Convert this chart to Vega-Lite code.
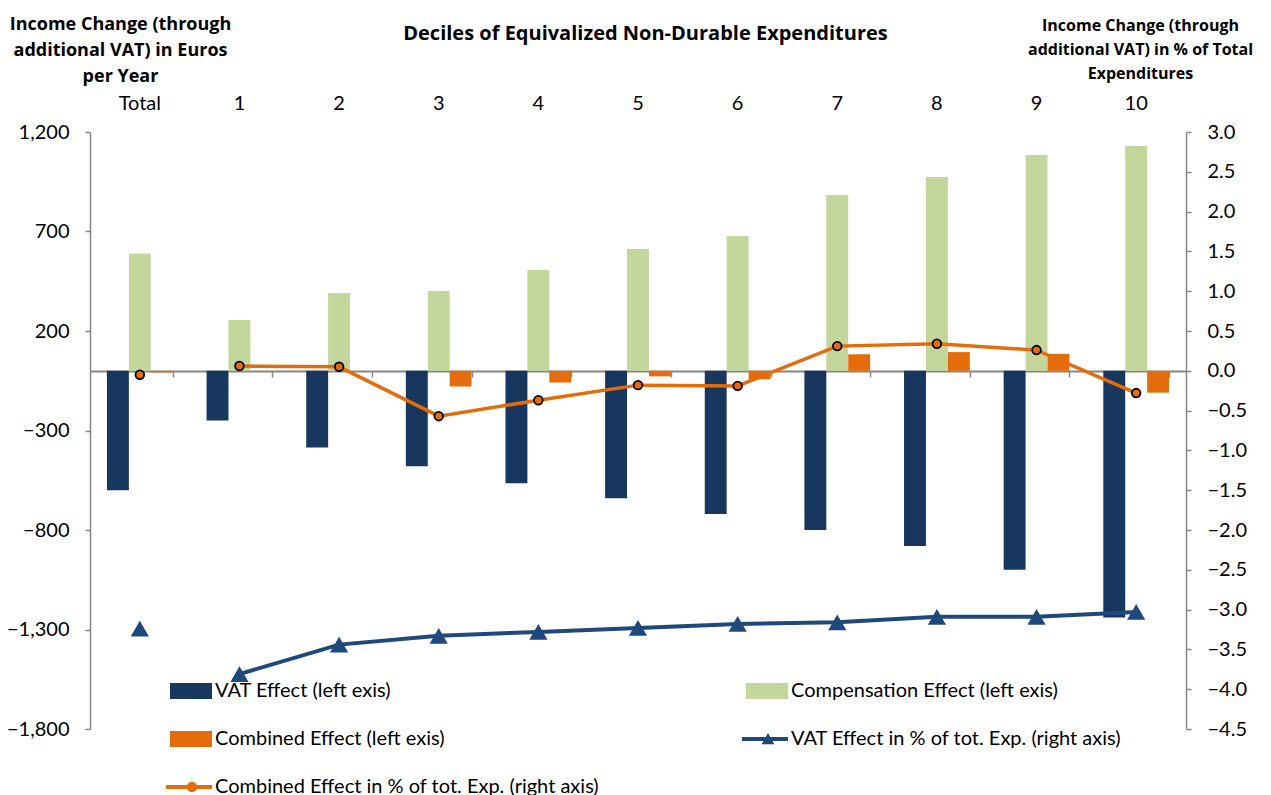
{
  "$schema": "https://vega.github.io/schema/vega-lite/v6.json",
  "width": 1096,
  "height": 597,
  "autosize": {"type": "none"},
  "padding": {"left": 90, "top": 132, "right": 85, "bottom": 66},
  "config": {
    "font": "Lato",
    "view": {"stroke": null},
    "axis": {"labelFont": "Lato", "titleFont": "Open Sans", "labelColor": "#000", "titleColor": "#000", "grid": false, "labelOverlap": false}
  },
  "data": {
    "values": [
      {"kind": "bar", "cat": "Total", "idx": 0, "series": "VAT Effect (left exis)", "value": -600},
      {"kind": "bar", "cat": "1", "idx": 1, "series": "VAT Effect (left exis)", "value": -250},
      {"kind": "bar", "cat": "2", "idx": 2, "series": "VAT Effect (left exis)", "value": -385},
      {"kind": "bar", "cat": "3", "idx": 3, "series": "VAT Effect (left exis)", "value": -480},
      {"kind": "bar", "cat": "4", "idx": 4, "series": "VAT Effect (left exis)", "value": -565},
      {"kind": "bar", "cat": "5", "idx": 5, "series": "VAT Effect (left exis)", "value": -640},
      {"kind": "bar", "cat": "6", "idx": 6, "series": "VAT Effect (left exis)", "value": -720},
      {"kind": "bar", "cat": "7", "idx": 7, "series": "VAT Effect (left exis)", "value": -800},
      {"kind": "bar", "cat": "8", "idx": 8, "series": "VAT Effect (left exis)", "value": -880},
      {"kind": "bar", "cat": "9", "idx": 9, "series": "VAT Effect (left exis)", "value": -1000},
      {"kind": "bar", "cat": "10", "idx": 10, "series": "VAT Effect (left exis)", "value": -1240},
      {"kind": "bar", "cat": "Total", "idx": 0, "series": "Compensation Effect (left exis)", "value": 590},
      {"kind": "bar", "cat": "1", "idx": 1, "series": "Compensation Effect (left exis)", "value": 255},
      {"kind": "bar", "cat": "2", "idx": 2, "series": "Compensation Effect (left exis)", "value": 391},
      {"kind": "bar", "cat": "3", "idx": 3, "series": "Compensation Effect (left exis)", "value": 401},
      {"kind": "bar", "cat": "4", "idx": 4, "series": "Compensation Effect (left exis)", "value": 506},
      {"kind": "bar", "cat": "5", "idx": 5, "series": "Compensation Effect (left exis)", "value": 612},
      {"kind": "bar", "cat": "6", "idx": 6, "series": "Compensation Effect (left exis)", "value": 677},
      {"kind": "bar", "cat": "7", "idx": 7, "series": "Compensation Effect (left exis)", "value": 883},
      {"kind": "bar", "cat": "8", "idx": 8, "series": "Compensation Effect (left exis)", "value": 974},
      {"kind": "bar", "cat": "9", "idx": 9, "series": "Compensation Effect (left exis)", "value": 1085},
      {"kind": "bar", "cat": "10", "idx": 10, "series": "Compensation Effect (left exis)", "value": 1130},
      {"kind": "bar", "cat": "Total", "idx": 0, "series": "Combined Effect (left exis)", "value": -8},
      {"kind": "bar", "cat": "1", "idx": 1, "series": "Combined Effect (left exis)", "value": 0},
      {"kind": "bar", "cat": "2", "idx": 2, "series": "Combined Effect (left exis)", "value": 0},
      {"kind": "bar", "cat": "3", "idx": 3, "series": "Combined Effect (left exis)", "value": -79},
      {"kind": "bar", "cat": "4", "idx": 4, "series": "Combined Effect (left exis)", "value": -59},
      {"kind": "bar", "cat": "5", "idx": 5, "series": "Combined Effect (left exis)", "value": -28},
      {"kind": "bar", "cat": "6", "idx": 6, "series": "Combined Effect (left exis)", "value": -43},
      {"kind": "bar", "cat": "7", "idx": 7, "series": "Combined Effect (left exis)", "value": 83},
      {"kind": "bar", "cat": "8", "idx": 8, "series": "Combined Effect (left exis)", "value": 94},
      {"kind": "bar", "cat": "9", "idx": 9, "series": "Combined Effect (left exis)", "value": 85},
      {"kind": "bar", "cat": "10", "idx": 10, "series": "Combined Effect (left exis)", "value": -110},
      {"kind": "line", "cat": "Total", "idx": 0, "series": "VAT Effect in % of tot. Exp. (right axis)", "value": -3.24},
      {"kind": "line", "cat": "1", "idx": 1, "series": "VAT Effect in % of tot. Exp. (right axis)", "value": -3.81},
      {"kind": "line", "cat": "2", "idx": 2, "series": "VAT Effect in % of tot. Exp. (right axis)", "value": -3.44},
      {"kind": "line", "cat": "3", "idx": 3, "series": "VAT Effect in % of tot. Exp. (right axis)", "value": -3.33},
      {"kind": "line", "cat": "4", "idx": 4, "series": "VAT Effect in % of tot. Exp. (right axis)", "value": -3.28},
      {"kind": "line", "cat": "5", "idx": 5, "series": "VAT Effect in % of tot. Exp. (right axis)", "value": -3.23},
      {"kind": "line", "cat": "6", "idx": 6, "series": "VAT Effect in % of tot. Exp. (right axis)", "value": -3.18},
      {"kind": "line", "cat": "7", "idx": 7, "series": "VAT Effect in % of tot. Exp. (right axis)", "value": -3.16},
      {"kind": "line", "cat": "8", "idx": 8, "series": "VAT Effect in % of tot. Exp. (right axis)", "value": -3.09},
      {"kind": "line", "cat": "9", "idx": 9, "series": "VAT Effect in % of tot. Exp. (right axis)", "value": -3.09},
      {"kind": "line", "cat": "10", "idx": 10, "series": "VAT Effect in % of tot. Exp. (right axis)", "value": -3.03},
      {"kind": "line", "cat": "Total", "idx": 0, "series": "Combined Effect in % of tot. Exp. (right axis)", "value": -0.05},
      {"kind": "line", "cat": "1", "idx": 1, "series": "Combined Effect in % of tot. Exp. (right axis)", "value": 0.06},
      {"kind": "line", "cat": "2", "idx": 2, "series": "Combined Effect in % of tot. Exp. (right axis)", "value": 0.05},
      {"kind": "line", "cat": "3", "idx": 3, "series": "Combined Effect in % of tot. Exp. (right axis)", "value": -0.57},
      {"kind": "line", "cat": "4", "idx": 4, "series": "Combined Effect in % of tot. Exp. (right axis)", "value": -0.37},
      {"kind": "line", "cat": "5", "idx": 5, "series": "Combined Effect in % of tot. Exp. (right axis)", "value": -0.18},
      {"kind": "line", "cat": "6", "idx": 6, "series": "Combined Effect in % of tot. Exp. (right axis)", "value": -0.19},
      {"kind": "line", "cat": "7", "idx": 7, "series": "Combined Effect in % of tot. Exp. (right axis)", "value": 0.31},
      {"kind": "line", "cat": "8", "idx": 8, "series": "Combined Effect in % of tot. Exp. (right axis)", "value": 0.34},
      {"kind": "line", "cat": "9", "idx": 9, "series": "Combined Effect in % of tot. Exp. (right axis)", "value": 0.26},
      {"kind": "line", "cat": "10", "idx": 10, "series": "Combined Effect in % of tot. Exp. (right axis)", "value": -0.28}
    ]
  },
  "layer": [
    {
      "transform": [{"filter": "datum.kind === 'bar'"}],
      "mark": {"type": "bar"},
      "encoding": {
        "x": {
          "field": "cat", "type": "nominal",
          "sort": ["Total", "1", "2", "3", "4", "5", "6", "7", "8", "9", "10"],
          "scale": {"paddingInner": 0.34, "paddingOuter": 0.17},
          "axis": {
            "orient": "top", "domain": false, "ticks": false, "labelAngle": 0,
            "labelFontSize": 20, "labelPadding": 19,
            "title": "Deciles of Equivalized Non-Durable Expenditures",
            "titleFontSize": 20, "titleFontWeight": "bold",
            "titleX": 555, "titleY": -99, "titleBaseline": "middle"
          }
        },
        "xOffset": {
          "field": "series", "type": "nominal",
          "sort": ["VAT Effect (left exis)", "Compensation Effect (left exis)", "Combined Effect (left exis)"]
        },
        "y": {
          "field": "value", "type": "quantitative",
          "scale": {"domain": [-1800, 1200], "nice": false, "zero": false},
          "axis": {
            "values": [-1800, -1300, -800, -300, 200, 700, 1200], "tickCount": 20,
            "format": ",.0f", "labelFontSize": 20, "labelPadding": 16, "tickSize": 5, "labelOverlap": false,
            "domainColor": "#868686", "tickColor": "#868686", "domainWidth": 1.5, "tickWidth": 1.5,
            "title": ["Income Change (through", "additional VAT) in Euros", "per Year"],
            "titleAngle": 0, "titleX": 30, "titleY": -117, "titleAlign": "center", "titleBaseline": "top",
            "titleFontSize": 18, "titleFontWeight": "bold", "titleLineHeight": 26
          }
        },
        "color": {
          "field": "series", "type": "nominal",
          "scale": {
            "domain": ["VAT Effect (left exis)", "Compensation Effect (left exis)", "Combined Effect (left exis)", "VAT Effect in % of tot. Exp. (right axis)", "Combined Effect in % of tot. Exp. (right axis)"],
            "range": ["#17375E", "#C3D69B", "#E46C0A", "#1F497D", "#E46C0A"]
          },
          "legend": {
            "orient": "none", "legendX": 82, "legendY": 539, "columns": 2, "direction": "horizontal", "title": null,
            "padding": 0, "symbolSize": 1600, "labelFontSize": 20, "labelFont": "Lato", "labelColor": "#000",
            "columnPadding": 142, "rowPadding": 18, "labelOffset": 3, "labelLimit": 600,
            "symbolOpacity": 1, "symbolStrokeWidth": 0
          }
        }
      }
    },
    {
      "layer": [
        {
          "transform": [{"filter": "datum.kind === 'line' && datum.series === 'VAT Effect in % of tot. Exp. (right axis)' && datum.cat !== 'Total'"}],
          "mark": {"type": "line", "strokeWidth": 4},
          "encoding": {
            "x": {
              "field": "cat", "type": "nominal",
              "sort": ["Total", "1", "2", "3", "4", "5", "6", "7", "8", "9", "10"],
              "axis": {
                "orient": "bottom", "offset": -358, "labels": false, "ticks": true, "tickBand": "extent",
                "tickSize": 6, "domainColor": "#868686", "tickColor": "#868686", "domainWidth": 2, "tickWidth": 1.5,
                "title": null
              }
            },
            "y": {
              "field": "value", "type": "quantitative",
              "scale": {"domain": [-4.5, 3], "nice": false, "zero": false},
              "axis": {
                "orient": "right",
                "values": [-4.5, -4, -3.5, -3, -2.5, -2, -1.5, -1, -0.5, 0, 0.5, 1, 1.5, 2, 2.5, 3], "tickCount": 30,
                "format": ".1f", "labelFontSize": 20, "labelPadding": 16, "tickSize": 5, "labelOverlap": false,
                "domainColor": "#868686", "tickColor": "#868686", "domainWidth": 1.5, "tickWidth": 1.5,
                "title": ["Income Change (through", "additional VAT) in % of Total", "Expenditures"],
                "titleAngle": 0, "titleX": -46, "titleY": -115, "titleAlign": "center", "titleBaseline": "top",
                "titleFontSize": 16, "titleFontWeight": "bold", "titleLineHeight": 24
              }
            },
            "color": {"field": "series", "type": "nominal", "legend": null},
            "order": {"field": "idx", "type": "quantitative"}
          }
        },
        {
          "transform": [{"filter": "datum.kind === 'line' && datum.series === 'VAT Effect in % of tot. Exp. (right axis)'"}],
          "mark": {"type": "point", "shape": "triangle-up", "filled": true, "size": 330, "opacity": 1},
          "encoding": {
            "x": {"field": "cat", "type": "nominal", "sort": ["Total", "1", "2", "3", "4", "5", "6", "7", "8", "9", "10"]},
            "y": {"field": "value", "type": "quantitative"},
            "color": {"field": "series", "type": "nominal", "legend": null}
          }
        },
        {
          "transform": [{"filter": "datum.kind === 'line' && datum.series === 'Combined Effect in % of tot. Exp. (right axis)' && datum.cat !== 'Total'"}],
          "mark": {"type": "line", "strokeWidth": 3.5},
          "encoding": {
            "x": {"field": "cat", "type": "nominal", "sort": ["Total", "1", "2", "3", "4", "5", "6", "7", "8", "9", "10"]},
            "y": {"field": "value", "type": "quantitative"},
            "color": {"field": "series", "type": "nominal", "legend": null},
            "order": {"field": "idx", "type": "quantitative"}
          }
        },
        {
          "transform": [{"filter": "datum.kind === 'line' && datum.series === 'Combined Effect in % of tot. Exp. (right axis)'"}],
          "mark": {"type": "point", "shape": "circle", "filled": true, "size": 75, "stroke": "#000000", "strokeWidth": 1.8, "opacity": 1},
          "encoding": {
            "x": {"field": "cat", "type": "nominal", "sort": ["Total", "1", "2", "3", "4", "5", "6", "7", "8", "9", "10"]},
            "y": {"field": "value", "type": "quantitative"},
            "color": {"field": "series", "type": "nominal", "legend": null}
          }
        },
        {
          "transform": [{"filter": "datum.kind === 'line'"}],
          "mark": {"type": "point", "filled": true, "size": 1, "opacity": 0},
          "encoding": {
            "x": {"field": "cat", "type": "nominal", "sort": ["Total", "1", "2", "3", "4", "5", "6", "7", "8", "9", "10"]},
            "y": {"field": "value", "type": "quantitative"},
            "color": {"field": "series", "type": "nominal", "legend": null},
            "shape": {
              "field": "series", "type": "nominal",
              "scale": {
                "domain": ["VAT Effect (left exis)", "Compensation Effect (left exis)", "Combined Effect (left exis)", "VAT Effect in % of tot. Exp. (right axis)", "Combined Effect in % of tot. Exp. (right axis)"],
                "range": [
                  "M-1.1,-0.4H1V0.4H-1.1Z",
                  "M-1.1,-0.4H1V0.4H-1.1Z",
                  "M-1.1,-0.4H1V0.4H-1.1Z",
                  "M-1.3,-0.1H1V0.1H-1.3ZM-0.32,0.26L0,-0.3L0.32,0.26Z",
                  "M-1.3,-0.1H1V0.1H-1.3ZM0.26,0A0.26,0.26 0 1,1 -0.26,0A0.26,0.26 0 1,1 0.26,0Z"
                ]
              },
              "legend": {
                "orient": "none", "legendX": 82, "legendY": 539, "columns": 2, "direction": "horizontal", "title": null,
                "padding": 0, "symbolSize": 1600, "labelFontSize": 20, "labelFont": "Lato", "labelColor": "#000",
                "columnPadding": 142, "rowPadding": 18, "labelOffset": 3, "labelLimit": 600,
                "symbolOpacity": 1, "symbolStrokeWidth": 0
              }
            }
          }
        }
      ]
    }
  ],
  "resolve": {"scale": {"y": "independent"}, "axis": {"x": "independent"}}
}
